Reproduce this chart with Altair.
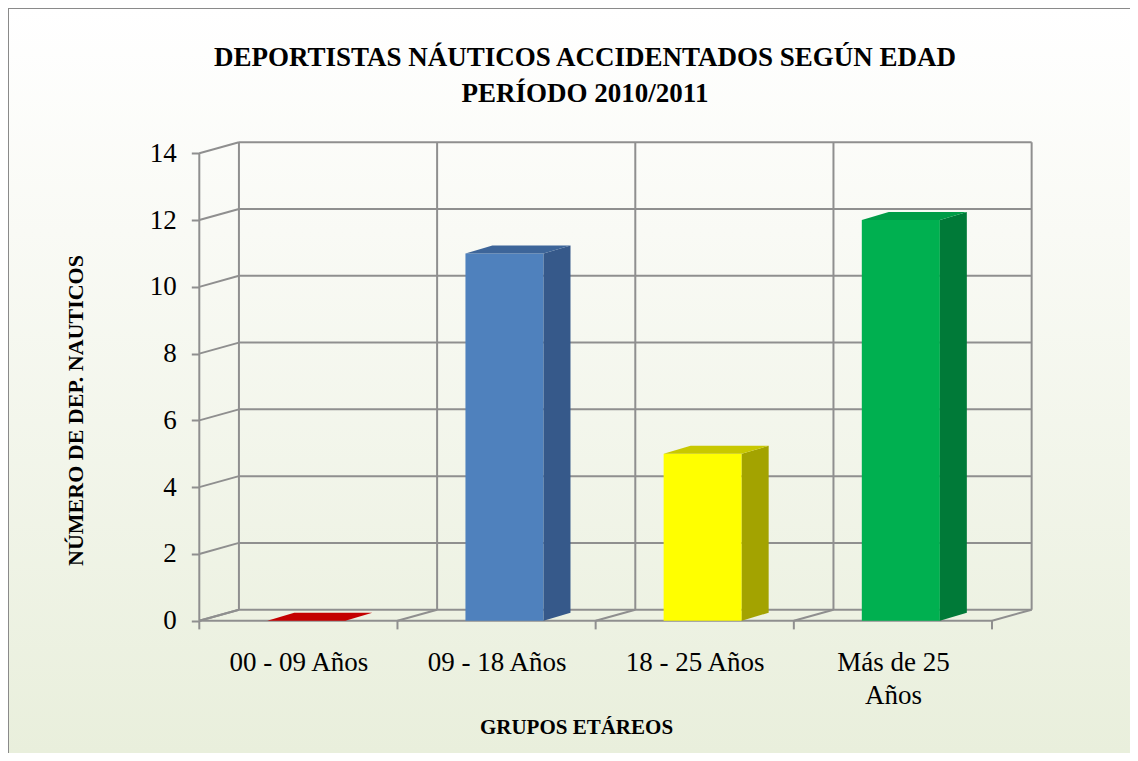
import json
import altair as alt
import pandas as pd

# ---------------- data ----------------
categories = ["00 - 09 Años", "09 - 18 Años", "18 - 25 Años", "Más de 25 Años"]
x_label_lines = [["00 - 09 Años"], ["09 - 18 Años"], ["18 - 25 Años"], ["Más de 25", "Años"]]
values = [0, 11, 5, 12]
y_ticks = [0, 2, 4, 6, 8, 10, 12, 14]

title_lines = ["DEPORTISTAS NÁUTICOS ACCIDENTADOS SEGÚN EDAD", "PERÍODO 2010/2011"]
y_title = "NÚMERO DE DEP. NAUTICOS"
x_title = "GRUPOS ETÁREOS"

front_colors = ["#e00000", "#4f81bd", "#ffff00", "#00b050"]
side_colors = ["#9a0000", "#36598a", "#a3a300", "#007a38"]
top_colors = ["#c40000", "#3d6599", "#c8c800", "#009c47"]

# ---------------- geometry / style ----------------
W, H = 1122, 745
X_DOM = [-0.9653, 4.6963]
Y_DOM = [-3.9627, 18.352]
DX, DY = 0.2, 0.33            # depth of the back wall
BAR_X0, BAR_W = 0.343, 0.394  # bar front face inside a category
BDX, BDY = 0.136, 0.24        # depth of the bars
TICK = 0.26
GRID = "#8f8f8f"
SERIF = "Liberation Serif"

n = len(categories)
ymax = y_ticks[-1]

xs = alt.Scale(domain=X_DOM, nice=False, zero=False)
ys = alt.Scale(domain=Y_DOM, nice=False, zero=False)

# grid segments
seg = []
for v in y_ticks:
    seg.append(dict(x=0, x2=DX, y=v, y2=v + DY))
    seg.append(dict(x=DX, x2=n + DX, y=v + DY, y2=v + DY))
for i in range(n + 1):
    seg.append(dict(x=i + DX, x2=i + DX, y=DY, y2=ymax + DY))
    seg.append(dict(x=i, x2=i + DX, y=0, y2=DY))
    seg.append(dict(x=i, x2=i, y=0, y2=-TICK))
seg.append(dict(x=0, x2=0, y=0, y2=ymax))
seg.append(dict(x=0, x2=n, y=0, y2=0))
seg_df = pd.DataFrame(seg)

front = pd.DataFrame({
    "cat": categories,
    "x0": [i + BAR_X0 for i in range(n)],
    "x1": [i + BAR_X0 + BAR_W for i in range(n)],
    "lo": [0] * n,
    "hi": values,
})

side_rows, top_rows = [], []
for i, (c, v) in enumerate(zip(categories, values)):
    x0 = i + BAR_X0
    x1 = x0 + BAR_W
    side_rows.append(dict(cat=c, xs=x1, lo=0, hi=v))
    side_rows.append(dict(cat=c, xs=x1 + BDX, lo=BDY, hi=v + BDY))
    top_rows.append(dict(cat=c, yt=v, xa=x0, xb=x1))
    top_rows.append(dict(cat=c, yt=v + BDY, xa=x0 + BDX, xb=x1 + BDX))
side_df = pd.DataFrame(side_rows)
top_df = pd.DataFrame(top_rows)

label_expr = json.dumps(x_label_lines, ensure_ascii=False) + "[floor(datum.value)]"

# ---------------- layers ----------------
bg = alt.Chart(pd.DataFrame({"a": [0]})).mark_rect(
    fill=alt.LinearGradient(
        gradient="linear",
        stops=[alt.GradientStop(color="#ffffff", offset=0),
               alt.GradientStop(color="#f9faf5", offset=0.3),
               alt.GradientStop(color="#e9efdc", offset=1)],
        x1=0, x2=0, y1=0, y2=1),
    strokeWidth=0,
).encode(x=alt.value(0), x2=alt.value(W), y=alt.value(0), y2=alt.value(H))

frame_left = alt.Chart(pd.DataFrame({"a": [0]})).mark_rule(color="#8a8a8a", strokeWidth=2).encode(
    x=alt.value(0), y=alt.value(0), y2=alt.value(H))
frame_top = alt.Chart(pd.DataFrame({"a": [0]})).mark_rule(color="#8a8a8a", strokeWidth=2).encode(
    y=alt.value(0), x=alt.value(0), x2=alt.value(W))

x_axis = alt.Axis(
    values=[i + 0.5 for i in range(n)], labelExpr=label_expr, ticks=False, domain=False, grid=False,
    offset=-132.3, labelPadding=29, labelFont=SERIF, labelFontSize=27, labelColor="#000000",
    labelLineHeight=33, labelAngle=0, labelOverlap=False, zindex=1,
    title=x_title, titleFont=SERIF, titleFontSize=21, titleFontWeight="bold", titleColor="#000000",
    titleX=568, titleY=107, titleBaseline="middle", titleAlign="center",
)
y_axis = alt.Axis(
    values=y_ticks, domain=False, grid=False, offset=-191.3, tickSize=8, tickWidth=2, tickColor=GRID,
    labelPadding=15, labelFont=SERIF, labelFontSize=27, labelColor="#000000", zindex=1,
    title=y_title, titleFont=SERIF, titleFontSize=22, titleFontWeight="bold", titleColor="#000000",
    titleX=-124, titleY=402, titleAngle=270, titleBaseline="middle", titleAlign="center",
)

grid = alt.Chart(seg_df).mark_rule(color=GRID, strokeWidth=2).encode(
    x=alt.X("x:Q", scale=xs, axis=x_axis),
    x2="x2:Q",
    y=alt.Y("y:Q", scale=ys, axis=y_axis),
    y2="y2:Q",
)

front_l = alt.Chart(front).mark_rect(strokeWidth=0).encode(
    x=alt.X("x0:Q", scale=xs), x2="x1:Q",
    y=alt.Y("lo:Q", scale=ys), y2="hi:Q",
    color=alt.Color("cat:N", scale=alt.Scale(domain=categories, range=front_colors), legend=None),
)

side_l = alt.Chart(side_df).mark_area(strokeWidth=0).encode(
    x=alt.X("xs:Q", scale=xs),
    y=alt.Y("lo:Q", scale=ys), y2="hi:Q",
    color=alt.Color("cat:N", scale=alt.Scale(domain=categories, range=side_colors), legend=None),
)

top_l = alt.Chart(top_df).mark_area(orient="horizontal", strokeWidth=0).encode(
    y=alt.Y("yt:Q", scale=ys),
    x=alt.X("xa:Q", scale=xs), x2="xb:Q",
    color=alt.Color("cat:N", scale=alt.Scale(domain=categories, range=top_colors), legend=None),
)

chart = alt.layer(bg, frame_left, frame_top, grid, front_l, side_l, top_l).resolve_scale(
    color="independent"
).properties(
    width=W, height=H,
    padding=0,
    autosize=alt.AutoSizeParams(type="none"),
    title=alt.TitleParams(
        text=title_lines, anchor="middle", frame="group", font=SERIF, fontSize=27, fontWeight="bold",
        color="#000000", lineHeight=36, offset=-101, dx=16,
    ),
).configure_view(stroke=None)

chart.save("out.html", embed_options={"renderer": "svg", "actions": False})
